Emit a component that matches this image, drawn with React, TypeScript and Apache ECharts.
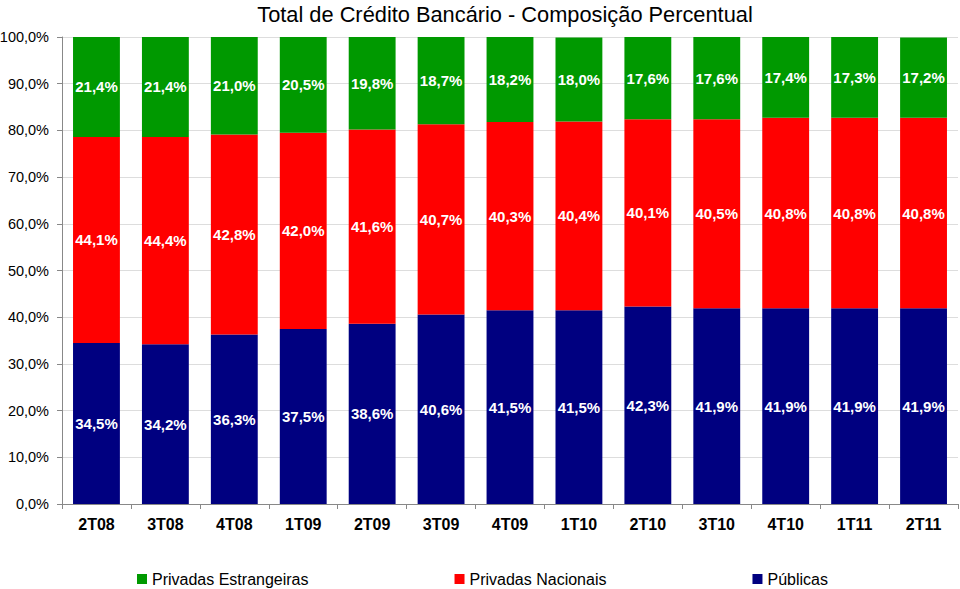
import React, { useEffect, useRef } from "react";
import * as echarts from "echarts";

const categories = ["2T08", "3T08", "4T08", "1T09", "2T09", "3T09", "4T09", "1T10", "2T10", "3T10", "4T10", "1T11", "2T11"];
const publicas = [34.5, 34.2, 36.3, 37.5, 38.6, 40.6, 41.5, 41.5, 42.3, 41.9, 41.9, 41.9, 41.9];
const nacionais = [44.1, 44.4, 42.8, 42.0, 41.6, 40.7, 40.3, 40.4, 40.1, 40.5, 40.8, 40.8, 40.8];
const estrangeiras = [21.4, 21.4, 21.0, 20.5, 19.8, 18.7, 18.2, 18.0, 17.6, 17.6, 17.4, 17.3, 17.2];

const FONT = "'Liberation Sans', Arial, sans-serif";
const fmt = (v: number) => v.toFixed(1).replace(".", ",") + "%";

export default function App() {
  const ref = useRef<HTMLDivElement>(null);
  useEffect(() => {
    if (!ref.current) return;
    const chart = echarts.init(ref.current, undefined, { renderer: "svg" });
    const label = {
      show: true,
      position: "inside" as const,
      color: "#ffffff",
      fontWeight: "bold" as const,
      fontSize: 15,
      fontFamily: FONT,
      formatter: (p: any) => fmt(p.value),
    };
    chart.setOption({
      animation: false,
      textStyle: { fontFamily: FONT },
      title: {
        text: "Total de Crédito Bancário - Composição Percentual",
        left: 500,
        textAlign: "center",
        top: -2,
        textStyle: { fontSize: 21.8, fontWeight: "normal", color: "#000", fontFamily: FONT },
      },
      legend: {
        left: 132,
        top: 566,
        itemWidth: 10,
        itemHeight: 10,
        itemGap: 146,
        icon: "rect",
        textStyle: { fontSize: 16, color: "#000", fontFamily: FONT },
        data: ["Privadas Estrangeiras", "Privadas Nacionais", "Públicas"],
      },
      grid: { left: 62, right: 2, top: 37, bottom: 85, containLabel: false, outerBoundsMode: "none" },
      xAxis: {
        type: "category",
        data: categories,
        axisLine: { lineStyle: { color: "#888888" } },
        axisTick: { show: true, length: 5, lineStyle: { color: "#888888" } },
        axisLabel: { fontSize: 16, fontWeight: "bold", color: "#000", margin: 12, fontFamily: FONT },
      },
      yAxis: {
        type: "value",
        min: 0,
        max: 100,
        interval: 10,
        axisLine: { show: true, lineStyle: { color: "#888888" } },
        axisTick: { show: true, length: 5, lineStyle: { color: "#888888" } },
        splitLine: { lineStyle: { color: "#dddddd" } },
        axisLabel: { fontSize: 14.5, color: "#000", margin: 13, fontFamily: FONT, formatter: (v: number) => fmt(v) },
      },
      series: [
        { name: "Públicas", type: "bar", stack: "t", data: publicas, barCategoryGap: "32%", itemStyle: { color: "#000080" }, label },
        { name: "Privadas Nacionais", type: "bar", stack: "t", data: nacionais, itemStyle: { color: "#ff0000" }, label },
        { name: "Privadas Estrangeiras", type: "bar", stack: "t", data: estrangeiras, itemStyle: { color: "#009900" }, label },
      ],
    });
    return () => chart.dispose();
  }, []);
  return <div ref={ref} style={{ width: 960, height: 589, position: "absolute", left: 0, top: 0 }} />;
}
